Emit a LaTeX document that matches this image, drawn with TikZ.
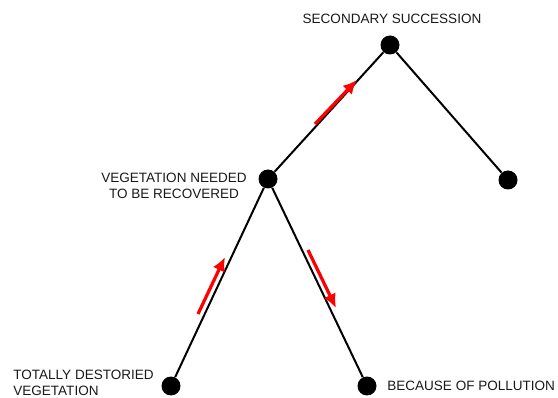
\documentclass[tikz,border=0pt]{standalone}
\usepackage{fontspec}
\setmainfont{Liberation Sans}
\usetikzlibrary{arrows.meta}
\tikzset{
    dot/.style={circle, fill=black, inner sep=0pt, minimum size=0.38cm},
    branch/.style={black, line width=0.04cm},
    flow/.style={red, line width=0.065cm, -{Latex[length=0.28cm, width=0.26cm]}},
    tag/.style={text=black!90, font=\fontsize{7.7}{9.1}\selectfont, inner sep=0pt}
}
\begin{document}
\begin{tikzpicture}[x=0.02cm, y=-0.02cm]
    \useasboundingbox (0,0) rectangle (558,398);

    % points of the tree
    \node[dot] (top) at (390,45) {};
    \node[dot] (side) at (508,180) {};
    \node[dot] (mid) at (268,179) {};
    \node[dot] (low) at (171,386) {};
    \node[dot] (poll) at (367,386) {};

    % branches
    \draw[branch] (top) -- (mid);
    \draw[branch] (top) -- (side);
    \draw[branch] (mid) -- (low);
    \draw[branch] (mid) -- (poll);

    % red arrows
    \draw[flow] (198,314) -- (225,257);
    \draw[flow] (308,250) -- (336,308);
    \draw[flow] (315,124) -- (357,80);

    % labels
    \node[tag] (ttop) at (392,19) {SECONDARY SUCCESSION};
    \node[tag, align=center] (tmid) at (174,186) {VEGETATION NEEDED\\TO BE RECOVERED};
    \node[tag, align=left, anchor=west] (tlow) at (13,383) {TOTALLY DESTORIED\\VEGETATION};
    \node[tag, anchor=west] (tpoll) at (387,386) {BECAUSE OF POLLUTION};
\end{tikzpicture}
\end{document}
